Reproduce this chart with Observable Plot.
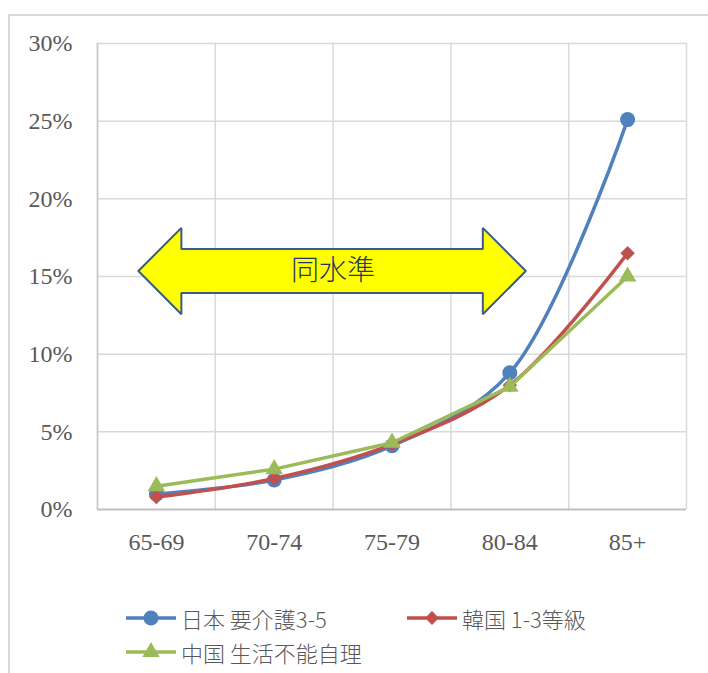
<!DOCTYPE html>
<html>
<head>
<meta charset="utf-8">
<script src="https://cdn.jsdelivr.net/npm/d3@7"></script>
<script src="https://cdn.jsdelivr.net/npm/@observablehq/plot@0.6"></script>
<style>
  body { margin: 0; background: #fff; width: 708px; height: 673px; overflow: hidden; position: relative; }
  #frame { position: absolute; left: 8px; top: 14px; width: 720px; height: 700px; border: 2px solid #d9d9d9; box-sizing: border-box; }
  #chart { position: absolute; left: 0; top: 0; }
  .item { position: absolute; display: flex; align-items: center; font-family: "Noto Sans CJK JP", sans-serif; font-weight: 300; font-size: 22px; color: #595959; white-space: nowrap; }
  .item svg { margin-right: 4px; }
</style>
</head>
<body>
<div id="frame"></div>
<div id="chart"></div>
<div id="legend"></div>
<script>
// Age groups on the x axis
const ageGroups = ["65-69", "70-74", "75-79", "80-84", "85+"];
// Share of each age group in the given care level
const japan = [0.010, 0.019, 0.041, 0.088, 0.251];
const korea = [0.008, 0.020, 0.042, 0.080, 0.165];
const china = [0.015, 0.026, 0.043, 0.079, 0.150];
const seriesNames = ["日本 要介護3-5", "韓国 1-3等級", "中国 生活不能自理"];
const seriesColors = ["#4f81bd", "#c0504d", "#9bbb59"];
const seriesSymbols = ["circle", "diamond2", "triangle"];
const yTicks = [0, 0.05, 0.10, 0.15, 0.20, 0.25, 0.30];
const bandLabel = "同水準";

const seriesValues = [japan, korea, china];
const curves = ["catmull-rom", "catmull-rom", "linear"];
const rows = seriesValues.map(vals => vals.map((v, i) => ({i, v})));

// Double-headed arrow spanning 65-69 .. 80-84, in data units
const arrow = {from: -0.153, to: 3.136, head: 0.365, mid: 0.1535, shaft: 0.0142, half: 0.0278};
const A = arrow;
const arrowShape = [
  [A.from, A.mid],
  [A.from + A.head, A.mid + A.half],
  [A.from + A.head, A.mid + A.shaft],
  [A.to - A.head, A.mid + A.shaft],
  [A.to - A.head, A.mid + A.half],
  [A.to, A.mid],
  [A.to - A.head, A.mid - A.half],
  [A.to - A.head, A.mid - A.shaft],
  [A.from + A.head, A.mid - A.shaft],
  [A.from + A.head, A.mid - A.half],
  [A.from, A.mid]
];

const gridX = d3.range(-0.5, ageGroups.length, 1);

const seriesMarks = rows.flatMap((data, k) => [
  Plot.line(data, {x: "i", y: "v", stroke: seriesColors[k], strokeWidth: 3.5, curve: curves[k]}),
  Plot.dot(data, {x: "i", y: "v", fill: seriesColors[k], stroke: "none", symbol: () => seriesSymbols[k], r: k === 0 ? 7.5 : 6.5})
]);

const chart = Plot.plot({
  width: 708,
  height: 579,
  marginLeft: 97,
  marginRight: 22,
  marginTop: 43,
  marginBottom: 70,
  style: {fontFamily: "'Liberation Serif', serif", fontSize: "24px", color: "#595959", background: "transparent", overflow: "visible"},
  x: {type: "linear", domain: [-0.5, ageGroups.length - 0.5]},
  y: {domain: [0, 0.30]},
  symbol: {type: "identity"},
  marks: [
    Plot.ruleY(yTicks.slice(1), {stroke: "#d9d9d9", strokeWidth: 1.5}),
    Plot.ruleX(gridX, {stroke: "#d9d9d9", strokeWidth: 1.5}),
    Plot.ruleX([-0.5], {stroke: "#c8c8c8", strokeWidth: 1.5}),
    Plot.ruleY([0], {stroke: "#bfbfbf", strokeWidth: 2}),
    Plot.line(arrowShape, {x: "0", y: "1", fill: "#ffff00", stroke: "#3b5a87", strokeWidth: 2, strokeLinejoin: "miter", curve: "linear"}),
    Plot.text([{label: bandLabel, x: 1.5, y: A.mid}], {x: "x", y: "y", text: "label", fill: "#1f3864", fontSize: 28, fontFamily: "'Noto Sans CJK JP', sans-serif", fontWeight: 300}),
    ...seriesMarks,
    Plot.axisY({ticks: yTicks, tickFormat: d3.format(".0%"), tickSize: 0, tickPadding: 25, fill: "#595959"}),
    Plot.axisX({ticks: d3.range(ageGroups.length), tickFormat: i => ageGroups[i], tickSize: 0, tickPadding: 23, fill: "#595959"})
  ]
});
document.getElementById("chart").append(chart);

// Legend below the plot
const legendPos = [[125, 618], [406, 618], [125, 652]];
const legend = document.getElementById("legend");
seriesNames.forEach((name, k) => {
  const item = document.createElement("div");
  item.className = "item";
  item.style.left = legendPos[k][0] + "px";
  item.style.top = (legendPos[k][1] - 15) + "px";
  item.style.height = "30px";
  const sym = d3.symbol(k === 0 ? d3.symbolCircle : k === 1 ? d3.symbolSquare : d3.symbolTriangle, k === 0 ? 180 : k === 1 ? 95 : 130)();
  item.innerHTML = `<svg width="52" height="20" viewBox="0 0 52 20">
    <line x1="1" y1="10" x2="51" y2="10" stroke="${seriesColors[k]}" stroke-width="3.5"/>
    <path d="${sym}" transform="translate(26,10)${k === 1 ? " rotate(45)" : ""}" fill="${seriesColors[k]}"/>
  </svg><span>${name}</span>`;
  legend.append(item);
});
</script>
</body>
</html>
